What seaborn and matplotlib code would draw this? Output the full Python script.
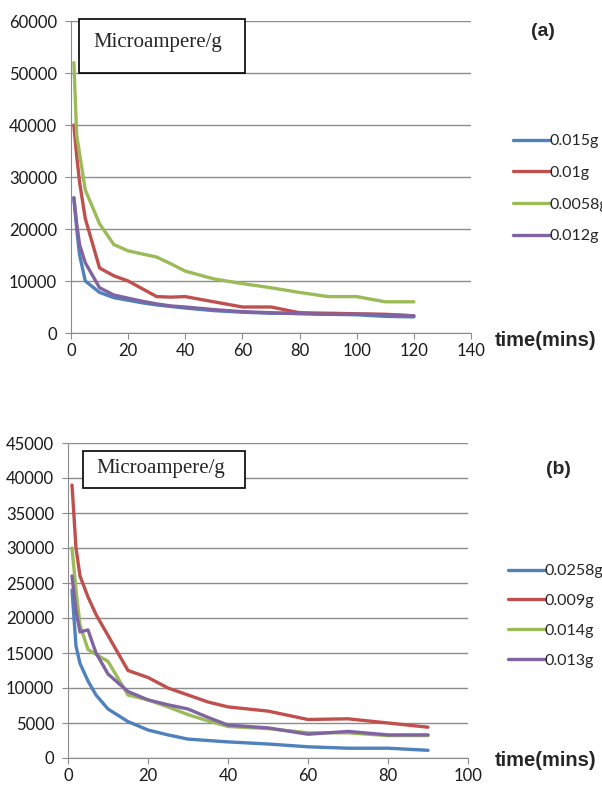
import numpy as np
import pandas as pd
import seaborn as sns
import matplotlib.pyplot as plt
from matplotlib.patches import Rectangle

# panel (a)
time_a = [1, 2, 3, 5, 10, 15, 20, 25, 30, 35, 40, 50, 60, 70, 80, 90, 100, 110, 120]
labels_a = ['0.015g', '0.01g', '0.0058g', '0.012g']
s015 = [26000, 20000, 15000, 10000, 7800, 6800, 6300, 5800, 5400, 5100, 4800, 4300, 4000, 3800, 3800, 3600, 3500, 3200, 3100]
s010 = [40000, 34000, 29000, 22000, 12500, 11000, 10000, 8500, 7000, 6900, 7000, 6000, 5000, 5000, 3900, 3800, 3700, 3600, 3300]
s0058 = [52000, 38000, 34500, 27500, 21000, 17000, 15800, 15200, 14600, 13300, 11900, 10400, 9500, 8700, 7800, 7000, 7000, 6000, 6000]
s012 = [26000, 21000, 17000, 13500, 8700, 7300, 6700, 6100, 5600, 5200, 5000, 4500, 4100, 3900, 3700, 3600, 3600, 3500, 3300]

# panel (b)
time_b = [1, 2, 3, 5, 7, 10, 15, 20, 25, 30, 35, 40, 50, 60, 70, 80, 90]
labels_b = ['0.0258g', '0.009g', '0.014g', '0.013g']
s0258 = [24000, 16000, 13500, 11000, 9000, 7000, 5200, 4000, 3300, 2700, 2500, 2300, 2000, 1600, 1400, 1400, 1100]
s009 = [39000, 30000, 26000, 23000, 20500, 17500, 12500, 11500, 10000, 9000, 8000, 7300, 6700, 5500, 5600, 5000, 4400]
s014 = [30000, 24000, 19000, 15500, 14800, 13800, 9000, 8300, 7300, 6200, 5300, 4500, 4200, 3600, 3600, 3200, 3200]
s013 = [26000, 21000, 18000, 18300, 15000, 12000, 9500, 8300, 7600, 7000, 5800, 4700, 4300, 3400, 3800, 3300, 3300]

colors = ['#4F81BD', '#C0504D', '#9BBB59', '#8064A2']

sns.set_style("white")
plt.rcParams['font.family'] = ['Lato', 'DejaVu Sans']

def to_long(t, names, series):
    rows = []
    for name, vals in zip(names, series):
        for x, y in zip(t, vals):
            rows.append((x, y, name))
    return pd.DataFrame(rows, columns=['time', 'value', 'sample'])

df_a = to_long(time_a, labels_a, [s015, s010, s0058, s012])
df_b = to_long(time_b, labels_b, [s0258, s009, s014, s013])

W, H = 602, 785
fig = plt.figure(figsize=(6.02, 7.85), dpi=100)
ax_a = fig.add_axes([71 / W, 1 - 333 / H, 400 / W, 312 / H])
ax_b = fig.add_axes([68 / W, 1 - 758 / H, 400 / W, 315 / H])

def style_axis(ax, xmax, ymax, ystep, xstep):
    ax.set_xlim(0, xmax)
    ax.set_ylim(0, ymax)
    ax.set_xticks(np.arange(0, xmax + 1, xstep))
    ax.set_yticks(np.arange(0, ymax + 1, ystep))
    ax.yaxis.grid(True, color='#8c8c8c', linewidth=1)
    ax.xaxis.grid(False)
    ax.set_axisbelow(True)
    for side in ['top', 'right']:
        ax.spines[side].set_visible(False)
    for side in ['left', 'bottom']:
        ax.spines[side].set_color('#8c8c8c')
    ax.tick_params(axis='both', length=4, color='#8c8c8c', labelsize=12, labelcolor='#1a1a1a', direction='out')
    ax.tick_params(axis='y', pad=6)
    ax.tick_params(axis='both', which='both', bottom=True, left=True)
    ax.set_xlabel('')
    ax.set_ylabel('')

for ax, df, names in [(ax_a, df_a, labels_a), (ax_b, df_b, labels_b)]:
    sns.lineplot(data=df, x='time', y='value', hue='sample', hue_order=names,
                 palette=colors, linewidth=2.4, ax=ax, legend=False)

style_axis(ax_a, 140, 60000, 10000, 20)
style_axis(ax_b, 100, 45000, 5000, 20)

# "Microampere/g" boxes (pixel coords from the reference)
for (x0, y0, x1, y1, tx, ty) in [(79, 19, 245, 73, 93, 43), (83, 451, 245, 488, 96, 469)]:
    fig.patches.append(Rectangle((x0 / W, 1 - y1 / H), (x1 - x0) / W, (y1 - y0) / H,
                                 transform=fig.transFigure, facecolor='white',
                                 edgecolor='black', linewidth=1.2, zorder=5))
    fig.text(tx / W, 1 - ty / H, 'Microampere/g', family='Liberation Serif',
             fontsize=15, ha='left', va='center', zorder=6)

bold = dict(family='Liberation Sans', fontweight='bold', ha='center', va='center')
fig.text(543 / W, 1 - 32 / H, '(a)', fontsize=14, **bold)
fig.text(558 / W, 1 - 469 / H, '(b)', fontsize=14, **bold)
fig.text(546 / W, 1 - 340 / H, 'time(mins)', fontsize=14.5, **bold)
fig.text(546 / W, 1 - 760 / H, 'time(mins)', fontsize=14.5, **bold)

# legends (the reference crops "0.0058g" at the right edge too)
for names, x0, ytop, lsp in [(labels_a, 513, 134, 1.1), (labels_b, 508, 564, 0.98)]:
    handles = [plt.Line2D([], [], color=c, linewidth=2.4) for c in colors]
    fig.legend(handles, names, loc='upper left', bbox_to_anchor=(x0 / W, 1 - ytop / H),
               frameon=False, fontsize=11.5, handlelength=2.3, handletextpad=0.0,
               labelspacing=lsp, borderaxespad=0, borderpad=0)

fig.savefig('out.png', dpi=100)
